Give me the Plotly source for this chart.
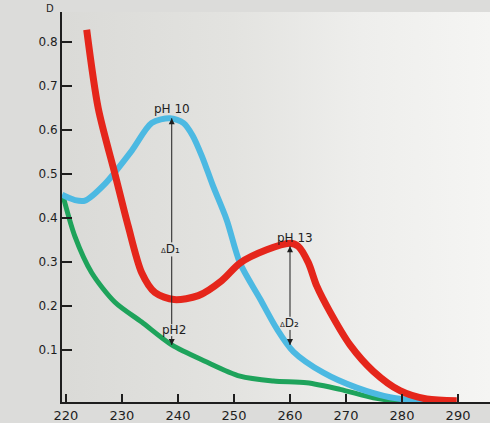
import plotly.graph_objects as go

# ---- data ----
red_x = [223.70, 225.77, 228.75, 230.23, 231.13, 233.52, 235.89, 239.3, 243.63, 247.8,
         251.07, 255.84, 260.0, 261.48, 263.27, 264.77, 267.14, 270.71, 274.88, 279.64, 284.41, 289.77]
red_y = [0.828, 0.649, 0.500, 0.425, 0.381, 0.276, 0.231, 0.215, 0.224, 0.258,
         0.298, 0.328, 0.343, 0.336, 0.299, 0.246, 0.187, 0.112, 0.052, 0.008, -0.011, -0.015]

blue_x = [219.3, 221.61, 223.4, 226.96, 231.73, 235.30, 238.57, 241.0, 242.6, 244.3, 246.2,
          248.70, 251.07, 254.64, 257.63, 260.59, 265.95, 271.91, 277.86, 284.41]
blue_y = [0.453, 0.441, 0.440, 0.478, 0.553, 0.616, 0.627, 0.616, 0.588, 0.540, 0.475,
          0.396, 0.298, 0.217, 0.149, 0.097, 0.049, 0.015, -0.007, -0.017]

green_x = [219.52, 221.61, 224.59, 228.75, 233.52, 238.88, 244.82, 251.07, 257.02, 262.98,
           268.93, 274.88, 279.64]
green_y = [0.448, 0.358, 0.276, 0.209, 0.164, 0.112, 0.075, 0.041, 0.030, 0.026,
           0.011, -0.008, -0.017]

x_ticks = [220, 230, 240, 250, 260, 270, 280, 290]
y_ticks = [0.1, 0.2, 0.3, 0.4, 0.5, 0.6, 0.7, 0.8]
y_tick_text = ["0.1", "0.2", "0.3", "0.4", "0.5", "0.6", "0.7", "0.8"]

# delta arrows: x, top value, bottom value
d1 = dict(x=238.88, top=0.627, bottom=0.112)
d2 = dict(x=260.0, top=0.336, bottom=0.112)

X_RANGE = [219.29, 295.71]
Y_RANGE = [-0.0177, 0.8684]

INK = "#1e1e1e"
FONT = "DejaVu Sans"

fig = go.Figure()

# paper-like background wash
fig.add_trace(go.Scatter(
    x=[X_RANGE[0], X_RANGE[1], X_RANGE[1], X_RANGE[0], X_RANGE[0]],
    y=[Y_RANGE[0], Y_RANGE[0], Y_RANGE[1], Y_RANGE[1], Y_RANGE[0]],
    mode="lines", line=dict(width=0), fill="toself",
    fillgradient=dict(type="horizontal",
                      colorscale=[[0, "#dadad7"], [0.4, "#e3e3e0"], [0.7, "#eeeeec"], [1, "#f5f5f3"]]),
    hoverinfo="skip", showlegend=False))

fig.add_trace(go.Scatter(x=green_x, y=green_y, mode="lines",
                         line=dict(color="#1ea35b", width=5, shape="spline", smoothing=0.8),
                         showlegend=False))
fig.add_trace(go.Scatter(x=blue_x, y=blue_y, mode="lines",
                         line=dict(color="#4cb9e2", width=6, shape="spline", smoothing=0.8),
                         showlegend=False))
fig.add_trace(go.Scatter(x=red_x, y=red_y, mode="lines",
                         line=dict(color="#e5261b", width=7, shape="spline", smoothing=0.8),
                         showlegend=False))

# ΔD arrow shafts, broken where their labels sit
shaft_x = [d1["x"], d1["x"], None, d1["x"], d1["x"], None, d1["x"], d1["x"], None,
           d2["x"], d2["x"], None, d2["x"], d2["x"]]
shaft_y = [d1["top"], 0.345, None, 0.313, 0.159, None, 0.132, d1["bottom"], None,
           d2["top"], 0.176, None, 0.146, d2["bottom"]]
fig.add_trace(go.Scatter(x=shaft_x, y=shaft_y, mode="lines", line=dict(color=INK, width=1),
                         hoverinfo="skip", showlegend=False))
# arrowheads (tip at the data point)
fig.add_trace(go.Scatter(x=[d1["x"], d2["x"]], y=[d1["top"], d2["top"]], mode="markers",
                         marker=dict(symbol="arrow-up", size=6, color=INK),
                         hoverinfo="skip", showlegend=False))
fig.add_trace(go.Scatter(x=[d1["x"], d2["x"]], y=[d1["bottom"], d2["bottom"]], mode="markers",
                         marker=dict(symbol="arrow-down", size=6, color=INK),
                         hoverinfo="skip", showlegend=False))

ann = []


def label(x, y, text, size=12):
    ann.append(dict(x=x, y=y, xref="x", yref="y", text=text, showarrow=False,
                    font=dict(family=FONT, size=size, color=INK)))


label(238.9, 0.649, "pH 10")
label(238.6, 0.331, "<span style='font-size:7px'>Δ</span>D₁")
label(239.3, 0.146, "pH2")
label(260.9, 0.356, "pH 13")
label(259.9, 0.161, "<span style='font-size:7px'>Δ</span>D₂")

ann.append(dict(x=-0.027, y=1.0, xref="paper", yref="paper", text="D", showarrow=False,
                xanchor="center", yanchor="middle", yshift=4,
                font=dict(family=FONT, size=10, color=INK)))

fig.update_layout(
    width=490, height=423,
    margin=dict(l=62, r=0, t=12, b=15),
    paper_bgcolor="#dcdcda",
    plot_bgcolor="rgba(0,0,0,0)",
    annotations=ann,
    xaxis=dict(range=X_RANGE, tickvals=x_ticks, ticktext=[str(v) for v in x_ticks],
               showgrid=False, zeroline=False, showline=True, linecolor=INK, linewidth=2,
               ticks="inside", ticklen=8, tickwidth=1.5, tickcolor=INK,
               tickfont=dict(family=FONT, size=13, color=INK)),
    yaxis=dict(range=Y_RANGE, tickvals=y_ticks, ticktext=y_tick_text,
               showgrid=False, zeroline=False, showline=True, linecolor=INK, linewidth=2,
               ticks="inside", ticklen=10, tickwidth=1.5, tickcolor=INK,
               tickfont=dict(family=FONT, size=12, color=INK)),
)

fig.write_html("out.html", config={"displayModeBar": False},
               post_script="document.body.style.margin='0';document.body.style.overflow='hidden';")
